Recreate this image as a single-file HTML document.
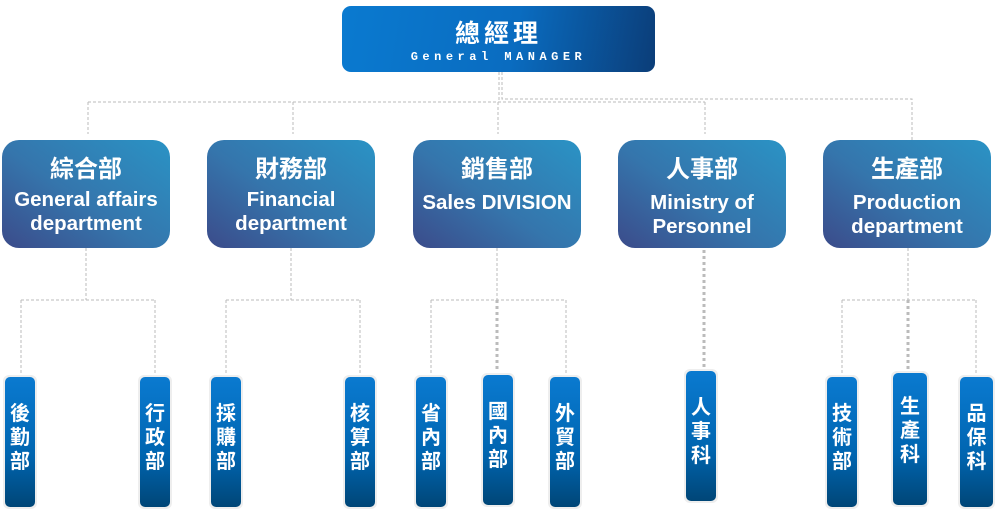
<!DOCTYPE html>
<html><head><meta charset="utf-8"><style>
body{margin:0;width:998px;height:510px;background:#fff;position:relative;overflow:hidden;font-family:"Liberation Sans","Noto Sans CJK TC",sans-serif}
.top{position:absolute;left:342px;top:6px;width:313px;height:66px;border-radius:9px;background:linear-gradient(100deg,#0a7ad0 0%,#0a6cc0 55%,#0b3d78 100%);color:#fff;text-align:center}
.top .c{font-size:25px;font-weight:bold;margin-top:11px;letter-spacing:4px;line-height:30px;font-family:"Noto Sans CJK TC",sans-serif}
.top .e{font-family:"Liberation Mono",monospace;font-size:12px;font-weight:bold;letter-spacing:4.5px;margin-top:3px}
.mid{position:absolute;top:140px;width:168px;height:108px;border-radius:17px;background:linear-gradient(35deg,#3b4b8a 0%,#3575ac 45%,#2a93c5 100%);color:#fff;text-align:center;font-weight:bold}
.mid .c{font-size:24px;margin-top:12px;line-height:30px;font-family:"Noto Sans CJK TC",sans-serif}
.mid .e{font-size:20.5px;line-height:24px;margin-top:6px}
.ch{position:absolute;width:34px;border-radius:6px;background:#eee;padding:2px;box-sizing:border-box}
.ch div{width:100%;height:100%;border-radius:5px;background:linear-gradient(180deg,#0a7ad0 0%,#0065b0 60%,#004677 100%);color:#fff;font-weight:bold;font-size:20px;line-height:24px;text-align:center;box-sizing:border-box;padding-top:23px;font-family:"Noto Sans CJK TC",sans-serif}
</style></head><body>
<svg width="998" height="510" style="position:absolute;left:0;top:0" fill="none" stroke="#bbb" stroke-width="1" stroke-dasharray="3,2">
<path d="M499 72V102M88 102H705M88 102V134M293 102V134M498 102V134M705 102V134"/>
<path d="M502 72V99H912V140"/>
<path d="M86 248V300M21 300H155M21 300V376M155 300V376"/>
<path d="M291 248V300M226 300H360M226 300V376M360 300V376"/>
<path d="M497 248V300M431 300H566M431 300V376M566 300V376"/>
<path d="M908 248V300M842 300H976M842 300V376M976 300V376"/>
<g stroke-width="3" stroke-dasharray="3,3"><path d="M497 300V372"/><path d="M704 250V367"/><path d="M908 300V372"/></g>
</svg>
<div class="top"><div class="c">總經理</div><div class="e">General MANAGER</div></div>
<div class="mid" style="left:2px"><div class="c">綜合部</div><div class="e">General affairs<br>department</div></div>
<div class="mid" style="left:207px"><div class="c">財務部</div><div class="e">Financial<br>department</div></div>
<div class="mid" style="left:413px"><div class="c">銷售部</div><div class="e" style="margin-top:9px">Sales DIVISION</div></div>
<div class="mid" style="left:618px"><div class="c">人事部</div><div class="e" style="margin-top:9px">Ministry of<br>Personnel</div></div>
<div class="mid" style="left:823px"><div class="c">生產部</div><div class="e" style="margin-top:9px">Production<br>department</div></div>
<div class="ch" style="left:3px;top:375px;height:134px"><div>後<br>勤<br>部</div></div>
<div class="ch" style="left:138px;top:375px;height:134px"><div>行<br>政<br>部</div></div>
<div class="ch" style="left:209px;top:375px;height:134px"><div>採<br>購<br>部</div></div>
<div class="ch" style="left:343px;top:375px;height:134px"><div>核<br>算<br>部</div></div>
<div class="ch" style="left:414px;top:375px;height:134px"><div>省<br>內<br>部</div></div>
<div class="ch" style="left:481px;top:373px;height:134px"><div>國<br>內<br>部</div></div>
<div class="ch" style="left:548px;top:375px;height:134px"><div>外<br>貿<br>部</div></div>
<div class="ch" style="left:684px;top:369px;height:134px"><div>人<br>事<br>科</div></div>
<div class="ch" style="left:825px;top:375px;height:134px"><div>技<br>術<br>部</div></div>
<div class="ch" style="left:891px;top:371px;height:136px;width:38px"><div style="padding-top:20px">生<br>產<br>科</div></div>
<div class="ch" style="left:958px;top:375px;height:134px;width:37px"><div>品<br>保<br>科</div></div>
</body></html>
